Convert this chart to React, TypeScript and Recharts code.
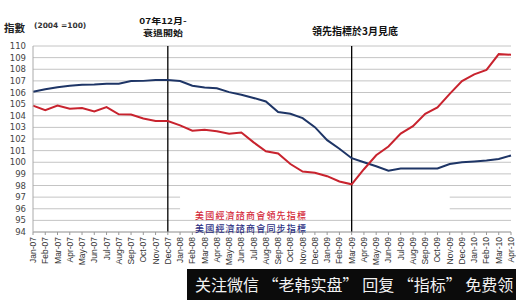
import {
	LineChart,
	Line,
	XAxis,
	YAxis,
	CartesianGrid,
	ReferenceLine,
	ReferenceArea,
	Legend,
} from 'recharts'

// 月份 (Jan-07 .. Apr-10)
const months = [
	'Jan-07', 'Feb-07', 'Mar-07', 'Apr-07', 'May-07', 'Jun-07', 'Jul-07', 'Aug-07', 'Sep-07', 'Oct-07', 'Nov-07', 'Dec-07',
	'Jan-08', 'Feb-08', 'Mar-08', 'Apr-08', 'May-08', 'Jun-08', 'Jul-08', 'Aug-08', 'Sep-08', 'Oct-08', 'Nov-08', 'Dec-08',
	'Jan-09', 'Feb-09', 'Mar-09', 'Apr-09', 'May-09', 'Jun-09', 'Jul-09', 'Aug-09', 'Sep-09', 'Oct-09', 'Nov-09', 'Dec-09',
	'Jan-10', 'Feb-10', 'Mar-10', 'Apr-10',
]

// 領先指標
const leading = [
	104.87, 104.47, 104.87, 104.6, 104.67, 104.37, 104.75, 104.12, 104.1, 103.77, 103.54, 103.54,
	103.17, 102.71, 102.79, 102.66, 102.46, 102.56, 101.71, 100.95, 100.75, 99.85, 99.2, 99.1,
	98.8, 98.35, 98.1, 99.4, 100.6, 101.36, 102.46, 103.1, 104.17, 104.72, 105.88, 106.98,
	107.56, 107.94, 109.3, 109.25,
]

// 同步指標
const coincident = [
	106.06, 106.28, 106.46, 106.58, 106.66, 106.68, 106.76, 106.76, 106.98, 107.0, 107.08, 107.08,
	106.98, 106.58, 106.43, 106.36, 106.03, 105.8, 105.53, 105.23, 104.32, 104.17, 103.8, 103.02,
	101.9, 101.16, 100.35, 100.0, 99.65, 99.27, 99.47, 99.47, 99.47, 99.47, 99.85, 100.0,
	100.07, 100.15, 100.28, 100.58,
]

const yTicks = [94, 95, 96, 97, 98, 99, 100, 101, 102, 103, 104, 105, 106, 107, 108, 109, 110]

const seriesNames = ['美國經濟諮商會領先指標', '美國經濟諮商會同步指標']

const RED = '#c8232e'
const BLUE = '#1e3566'

const data = months.map((m, i) => ({
	month: m,
	leading: leading[i],
	coincident: coincident[i],
}))

const XTick = ({ x, y, payload }: any) => (
	<text
		x={x}
		y={y}
		transform={`rotate(-90 ${x} ${y})`}
		textAnchor='end'
		dominantBaseline='central'
		fontSize={8.5}
		fontFamily='Liberation Sans, Arial, sans-serif'
		fill='#333'
	>
		{payload.value}
	</text>
)

const LegendBox = () => (
	<div
		style={{
			fontFamily: 'Noto Sans CJK TC',
			fontSize: 9,
			lineHeight: '13px',
			letterSpacing: 1.2,
			fontWeight: 500,
			whiteSpace: 'nowrap',
		}}
	>
		<div style={{ color: '#d42a3a' }}>{seriesNames[0]}</div>
		<div style={{ color: '#2b2e82' }}>{seriesNames[1]}</div>
	</div>
)

const cjk = 'Noto Sans CJK TC, sans-serif'

const App = () => {
	return (
		<div
			style={{
				position: 'absolute',
				left: 0,
				top: 0,
				width: 516,
				height: 300,
				background: '#fff',
				overflow: 'hidden',
			}}
		>
			<LineChart
				width={516}
				height={300}
				data={data}
				margin={{ top: 46, right: 5, bottom: 2, left: 0 }}
			>
				<CartesianGrid vertical={false} stroke='#c4c4c4' />
				<XAxis
					dataKey='month'
					interval={0}
					height={40}
					tick={<XTick />}
					tickSize={3}
					tickMargin={2}
					tickLine={{ stroke: '#999' }}
					axisLine={{ stroke: '#aaa' }}
				/>
				<YAxis
					width={33}
					domain={[94, 110]}
					ticks={yTicks}
					interval={0}
					tickSize={0}
					tickMargin={7}
					axisLine={{ stroke: '#aaa' }}
					tick={{ fontSize: 8.5, fill: '#444', fontFamily: 'DejaVu Sans' }}
				/>
				<ReferenceArea x1='Jan-08' x2='Nov-09' y1={95.5} y2={97.6} fill='#fff' fillOpacity={1} stroke='none' />
				<ReferenceLine x='Dec-07' stroke='#000' strokeWidth={1.3} />
				<ReferenceLine x='Mar-09' stroke='#000' strokeWidth={1.3} />
				<Line
					type='linear'
					dataKey='coincident'
					name={seriesNames[1]}
					stroke={BLUE}
					strokeWidth={2}
					dot={false}
					isAnimationActive={false}
				/>
				<Line
					type='linear'
					dataKey='leading'
					name={seriesNames[0]}
					stroke={RED}
					strokeWidth={2}
					dot={false}
					isAnimationActive={false}
				/>
				<Legend
					content={<LegendBox />}
					wrapperStyle={{ left: 195, top: 209, width: 'auto', bottom: 'auto' }}
				/>
			</LineChart>

			{/* annotations */}
			<div style={{ position: 'absolute', left: 4, top: 20, fontFamily: cjk, fontSize: 10.5, fontWeight: 700, color: '#222' }}>
				指數
			</div>
			<div style={{ position: 'absolute', left: 34, top: 21, fontFamily: 'DejaVu Sans', fontSize: 7.5, fontWeight: 700, color: '#333' }}>
				(2004 =100)
			</div>
			<div
				style={{
					position: 'absolute',
					left: 123,
					width: 80,
					top: 15,
					textAlign: 'center',
					fontFamily: cjk,
					fontSize: 10,
					fontWeight: 700,
					lineHeight: '14.6px',
					transform: 'scaleY(0.8)',
					transformOrigin: 'top',
					color: '#111',
				}}
			>
				<div>07年12月-</div>
				<div>衰退開始</div>
			</div>
			<div
				style={{
					position: 'absolute',
					left: 312,
					top: 25,
					fontFamily: cjk,
					fontSize: 10,
					fontWeight: 700,
					lineHeight: '12px',
					color: '#111',
					whiteSpace: 'nowrap',
				}}
			>
				領先指標於3月見底
			</div>

			{/* watermark banner */}
			<div
				style={{
					position: 'absolute',
					left: 187,
					top: 269,
					width: 329,
					height: 31,
					background: '#0b0b0b',
					color: '#f2f2f2',
					fontFamily: 'Noto Sans CJK SC, sans-serif',
					fontSize: 16,
					lineHeight: '31px',
					paddingLeft: 8,
					whiteSpace: 'nowrap',
					overflow: 'hidden',
					boxSizing: 'border-box',
				}}
			>
				关注微信 “老韩实盘” 回复 “指标” 免费领
			</div>
		</div>
	)
}

export default App
